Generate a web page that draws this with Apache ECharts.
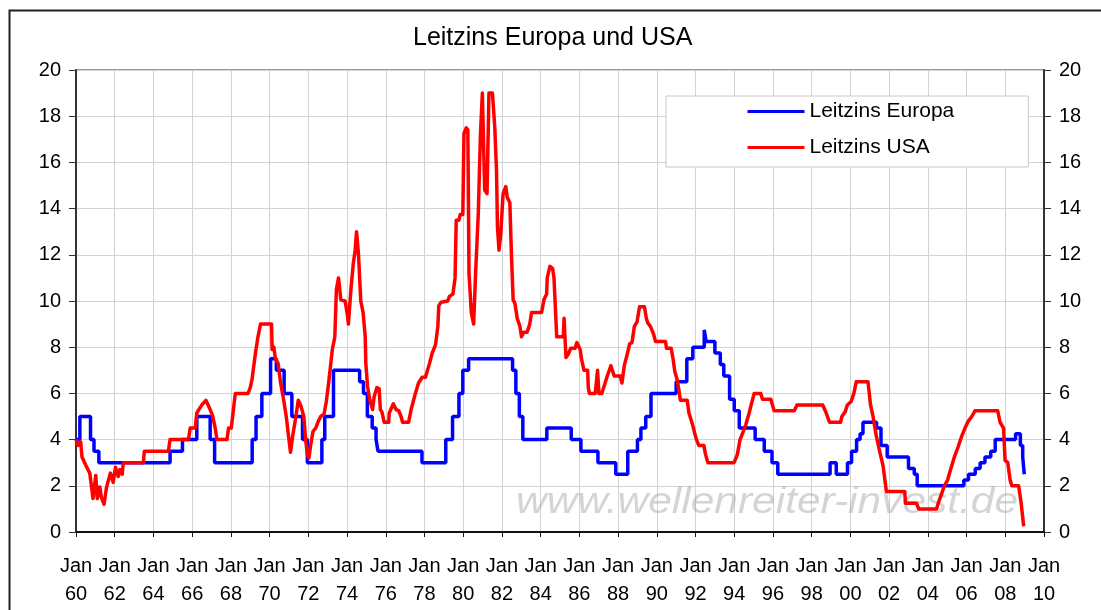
<!DOCTYPE html>
<html>
<head>
<meta charset="utf-8">
<script src="https://cdn.jsdelivr.net/npm/echarts@6/dist/echarts.min.js"></script>
<style>
  html, body { margin:0; padding:0; background:#fff; }
  #chart { width:1101px; height:610px; }
</style>
</head>
<body>
<div id="chart"></div>
<script>
// ======== Daten (Jahr als Dezimalzahl, Zins in %) ========
const seriesNames = ['Leitzins Europa', 'Leitzins USA'];

// Europa: Zinsänderungen (Stufen)
const euYears = [1960.0,1960.2,1960.75,1960.93,1961.18,1964.86,1965.5,1966.24,1966.93,1967.16,
  1969.1,1969.3,1969.6,1970.05,1970.35,1970.75,1971.15,1971.7,1971.95,1972.7,1972.85,1973.3,
  1974.65,1974.85,1975.05,1975.3,1975.5,1975.6,1977.87,1979.1,1979.45,1979.78,1979.98,1980.28,
  1982.55,1982.72,1982.9,1983.08,1984.32,1985.58,1986.08,1986.96,1987.88,1988.5,1989.0,1989.18,
  1989.43,1989.7,1991.0,1991.55,1991.86,1992.45,1992.55,1993.0,1993.28,1993.46,1993.76,1994.0,
  1994.26,1995.08,1995.55,1995.95,1996.25,1998.95,1999.27,1999.85,2000.06,2000.32,2000.5,2000.65,
  2001.35,2001.58,2001.9,2003.0,2003.3,2003.45,2005.86,2006.1,2006.45,2006.7,2006.95,2007.25,
  2007.48,2008.53,2008.78,2008.9,2008.98,2009.0];
const euRates = [4.0,5.0,4.0,3.5,3.0,3.5,4.0,5.0,4.0,3.0,
  4.0,5.0,6.0,7.5,7.0,6.0,5.0,4.0,3.0,4.0,5.0,7.0,
  6.5,6.0,5.0,4.5,4.0,3.5,3.0,4.0,5.0,6.0,7.0,7.5,
  7.0,6.0,5.0,4.0,4.5,4.0,3.5,3.0,2.5,3.5,4.0,4.5,
  5.0,6.0,6.5,7.5,8.0,8.75,8.25,7.75,7.25,6.75,5.75,5.25,
  4.5,4.0,3.5,3.0,2.5,3.0,2.5,3.0,3.5,4.0,4.25,4.75,
  4.5,3.75,3.25,2.75,2.5,2.0,2.25,2.5,2.75,3.0,3.25,3.5,
  4.0,4.25,3.75,3.25,2.5,2.5];

// USA
const usYears = [1960.0,1960.1,1960.24,1960.31,1960.53,1960.71,1960.88,1961.02,1961.1,1961.23,1961.31,1961.45,
  1961.57,1961.66,1961.78,1961.92,1962.04,1962.18,1962.27,1962.39,1962.44,1963.48,1963.53,1964.77,1964.86,
  1965.81,1965.9,1966.16,1966.24,1966.5,1966.71,1966.93,1967.05,1967.19,1967.28,1967.8,1967.88,1968.02,
  1968.09,1968.23,1968.89,1969.0,1969.09,1969.27,1969.4,1969.53,1970.1,1970.13,1970.22,1970.3,1970.44,
  1970.56,1970.74,1970.86,1971.0,1971.08,1971.2,1971.34,1971.48,1971.6,1971.77,1971.86,1971.95,1972.03,
  1972.12,1972.24,1972.38,1972.52,1972.64,1972.81,1972.93,1973.07,1973.24,1973.37,1973.45,1973.56,1973.68,
  1973.9,1974.02,1974.07,1974.2,1974.32,1974.42,1974.49,1974.59,1974.71,1974.83,1974.94,1974.97,1975.06,
  1975.18,1975.32,1975.4,1975.54,1975.66,1975.72,1975.8,1975.92,1976.15,1976.18,1976.39,1976.53,1976.67,
  1976.79,1976.87,1977.18,1977.31,1977.39,1977.53,1977.69,1977.88,1978.05,1978.26,1978.4,1978.57,1978.69,
  1978.74,1978.86,1979.2,1979.29,1979.47,1979.58,1979.64,1979.78,1979.85,1979.98,1980.04,1980.16,1980.24,
  1980.3,1980.42,1980.54,1980.64,1980.78,1980.89,1980.99,1981.06,1981.11,1981.23,1981.33,1981.51,1981.63,
  1981.72,1981.77,1981.85,1981.94,1982.06,1982.2,1982.27,1982.41,1982.49,1982.58,1982.67,1982.79,1982.93,
  1983.01,1983.13,1983.3,1983.44,1983.53,1984.05,1984.17,1984.31,1984.34,1984.48,1984.62,1984.69,1984.83,
  1985.17,1985.21,1985.31,1985.43,1985.55,1985.78,1985.87,1986.04,1986.12,1986.24,1986.43,1986.46,1986.52,
  1986.82,1986.94,1987.01,1987.16,1987.33,1987.42,1987.5,1987.63,1987.73,1987.8,1988.11,1988.2,1988.32,
  1988.46,1988.6,1988.72,1988.84,1988.98,1989.11,1989.36,1989.46,1989.53,1989.67,1989.84,1989.93,1990.45,
  1990.5,1990.74,1990.84,1990.93,1991.05,1991.14,1991.22,1991.57,1991.66,1991.83,1991.95,1992.05,1992.17,
  1992.43,1992.52,1992.64,1993.99,1994.16,1994.3,1994.42,1994.6,1994.77,1994.89,1995.03,1995.37,1995.46,
  1995.89,1996.06,1997.1,1997.24,1998.57,1998.75,1998.92,1999.49,1999.56,1999.73,1999.84,2000.04,2000.18,
  2000.3,2000.91,2001.04,2001.17,2001.34,2001.51,2001.69,2001.86,2002.81,2002.84,2003.41,2003.53,2004.45,
  2004.54,2004.71,2004.85,2005.02,2005.19,2005.37,2005.57,2005.75,2005.92,2006.09,2006.27,2006.44,2007.61,
  2007.73,2007.91,2007.99,2008.13,2008.25,2008.34,2008.69,2008.82,2008.95];
const usRates = [4.0,3.75,3.9,3.25,2.85,2.55,1.45,2.45,1.45,1.95,1.5,1.2,
  1.9,2.2,2.55,2.15,2.8,2.4,2.7,2.5,3.0,3.0,3.5,3.5,4.0,
  4.0,4.5,4.5,5.15,5.5,5.7,5.3,5.05,4.5,4.0,4.0,4.5,4.5,
  5.0,6.0,6.0,6.25,6.6,7.75,8.45,9.0,9.0,7.9,8.0,7.5,7.3,
  6.5,5.65,5.0,4.0,3.45,4.2,4.9,5.7,5.5,5.0,4.0,3.35,3.2,
  3.75,4.35,4.5,4.8,5.0,5.1,5.65,6.6,7.9,8.45,10.5,11.0,10.05,
  10.0,9.4,9.0,10.5,11.6,12.2,13.0,12.05,10.0,9.5,8.45,7.3,6.3,
  5.7,5.3,5.85,6.25,6.2,5.3,5.2,4.75,4.75,5.15,5.55,5.3,5.25,
  5.0,4.75,4.75,5.3,5.55,6.0,6.45,6.7,6.7,7.3,7.75,8.1,8.9,
  9.8,9.95,10.0,10.2,10.3,11.0,13.5,13.5,13.75,13.75,17.25,17.5,17.4,
  11.2,9.5,9.0,11.2,13.8,17.2,19.0,19.0,14.8,14.65,19.0,19.0,17.55,
  15.65,13.2,12.2,12.9,14.65,14.95,14.5,14.25,12.05,10.05,9.9,9.25,8.9,
  8.45,8.65,8.65,9.0,9.5,9.5,10.05,10.3,11.0,11.5,11.4,11.0,8.45,
  8.45,9.25,7.55,7.7,7.95,7.95,8.2,7.9,7.45,7.0,7.0,6.25,6.0,
  6.0,7.0,6.0,6.0,6.45,6.7,6.7,7.2,7.25,6.75,6.75,6.45,7.2,
  7.65,8.15,8.2,8.9,9.1,9.75,9.75,9.25,9.05,8.9,8.55,8.25,8.25,
  7.95,7.95,7.5,6.95,6.6,6.15,5.7,5.7,5.15,4.7,4.3,4.0,3.75,
  3.75,3.35,3.0,3.0,3.35,4.0,4.25,4.65,5.15,5.55,6.0,6.0,5.75,
  5.75,5.25,5.25,5.5,5.5,5.15,4.75,4.75,5.0,5.2,5.5,5.65,6.0,
  6.5,6.5,5.5,5.0,4.15,3.5,2.85,1.75,1.75,1.25,1.25,1.0,1.0,
  1.25,1.65,2.0,2.25,2.75,3.25,3.7,4.15,4.5,4.8,5.0,5.25,5.25,
  4.75,4.5,3.1,3.0,2.25,2.0,2.0,1.25,0.25];

const xMin = 1960, xMax = 2010, xStep = 2;
const yMin = 0, yMax = 20, yStep = 2;

// ======== Chart ========
const chart = echarts.init(document.getElementById('chart'), null, { renderer:'canvas' });
const FONT = '"Liberation Sans", Arial, sans-serif';
const pairs = (xs, ys) => xs.map((x, i) => [x, ys[i]]);

const yAxisBase = {
  type:'value', min:yMin, max:yMax, interval:yStep,
  axisLine:{ show:true, lineStyle:{ color:'#333', width:2 } },
  axisTick:{ show:true, length:7, lineStyle:{ color:'#333', width:1 } },
  axisLabel:{ fontFamily:FONT, fontSize:20, color:'#000', margin:15 }
};

chart.setOption({
  animation:false,
  backgroundColor:'#fff',
  title:{
    text:'Leitzins Europa und USA', left:413, top:26, padding:0,
    textStyle:{ fontFamily:FONT, fontSize:25, fontWeight:'normal', color:'#000' }
  },
  legend:{
    data:seriesNames, orient:'vertical', left:666, top:96,
    padding:[5, 74, 9, 80], itemWidth:57, itemHeight:20, itemGap:15,
    backgroundColor:'#fff', borderColor:'#c8c8c8', borderWidth:1, borderRadius:0,
    itemStyle:{ opacity:0 },
    lineStyle:{ width:3 },
    textStyle:{ fontFamily:FONT, fontSize:21, color:'#000' }
  },
  grid:{ left:76, right:57, top:70, bottom:78, show:true, borderColor:'#999', borderWidth:2, backgroundColor:'transparent' },
  xAxis:{
    type:'value', min:xMin, max:xMax, interval:xStep,
    axisLine:{ show:true, lineStyle:{ color:'#111', width:2 } },
    axisTick:{ show:true, length:5, lineStyle:{ color:'#111' } },
    splitLine:{ show:true, lineStyle:{ color:'#d3d3d3', width:1 } },
    axisLabel:{
      fontFamily:FONT, fontSize:20, color:'#000', margin:20, lineHeight:28,
      formatter:(v)=> 'Jan\n' + String(v % 100).padStart(2, '0')
    }
  },
  yAxis:[
    Object.assign({}, yAxisBase, { position:'left', splitLine:{ show:true, lineStyle:{ color:'#d3d3d3', width:1 } } }),
    Object.assign({}, yAxisBase, { position:'right', splitLine:{ show:false } })
  ],
  graphic:[
    { type:'rect', left:7, top:8, z:-10, silent:true,
      shape:{ width:1200, height:700 }, style:{ fill:'none', stroke:'#222', lineWidth:2 } },
    { type:'text', x:516, y:485, scaleX:1.18, z:1, silent:true,
      style:{ text:'www.wellenreiter-invest.de', font:'italic 36px "Liberation Sans", Arial, sans-serif', fill:'rgba(160,160,160,0.45)' } }
  ],
  series:[
    { name:seriesNames[0], type:'line', step:'end', symbol:'none', z:3,
      data:pairs(euYears, euRates), lineStyle:{ color:'#0000ff', width:3.5 }, itemStyle:{ color:'#0000ff' } },
    { name:seriesNames[1], type:'line', symbol:'none', z:4,
      data:pairs(usYears, usRates), lineStyle:{ color:'#ff0000', width:3.5, join:'round' }, itemStyle:{ color:'#ff0000' } }
  ]
});
</script>
</body>
</html>
